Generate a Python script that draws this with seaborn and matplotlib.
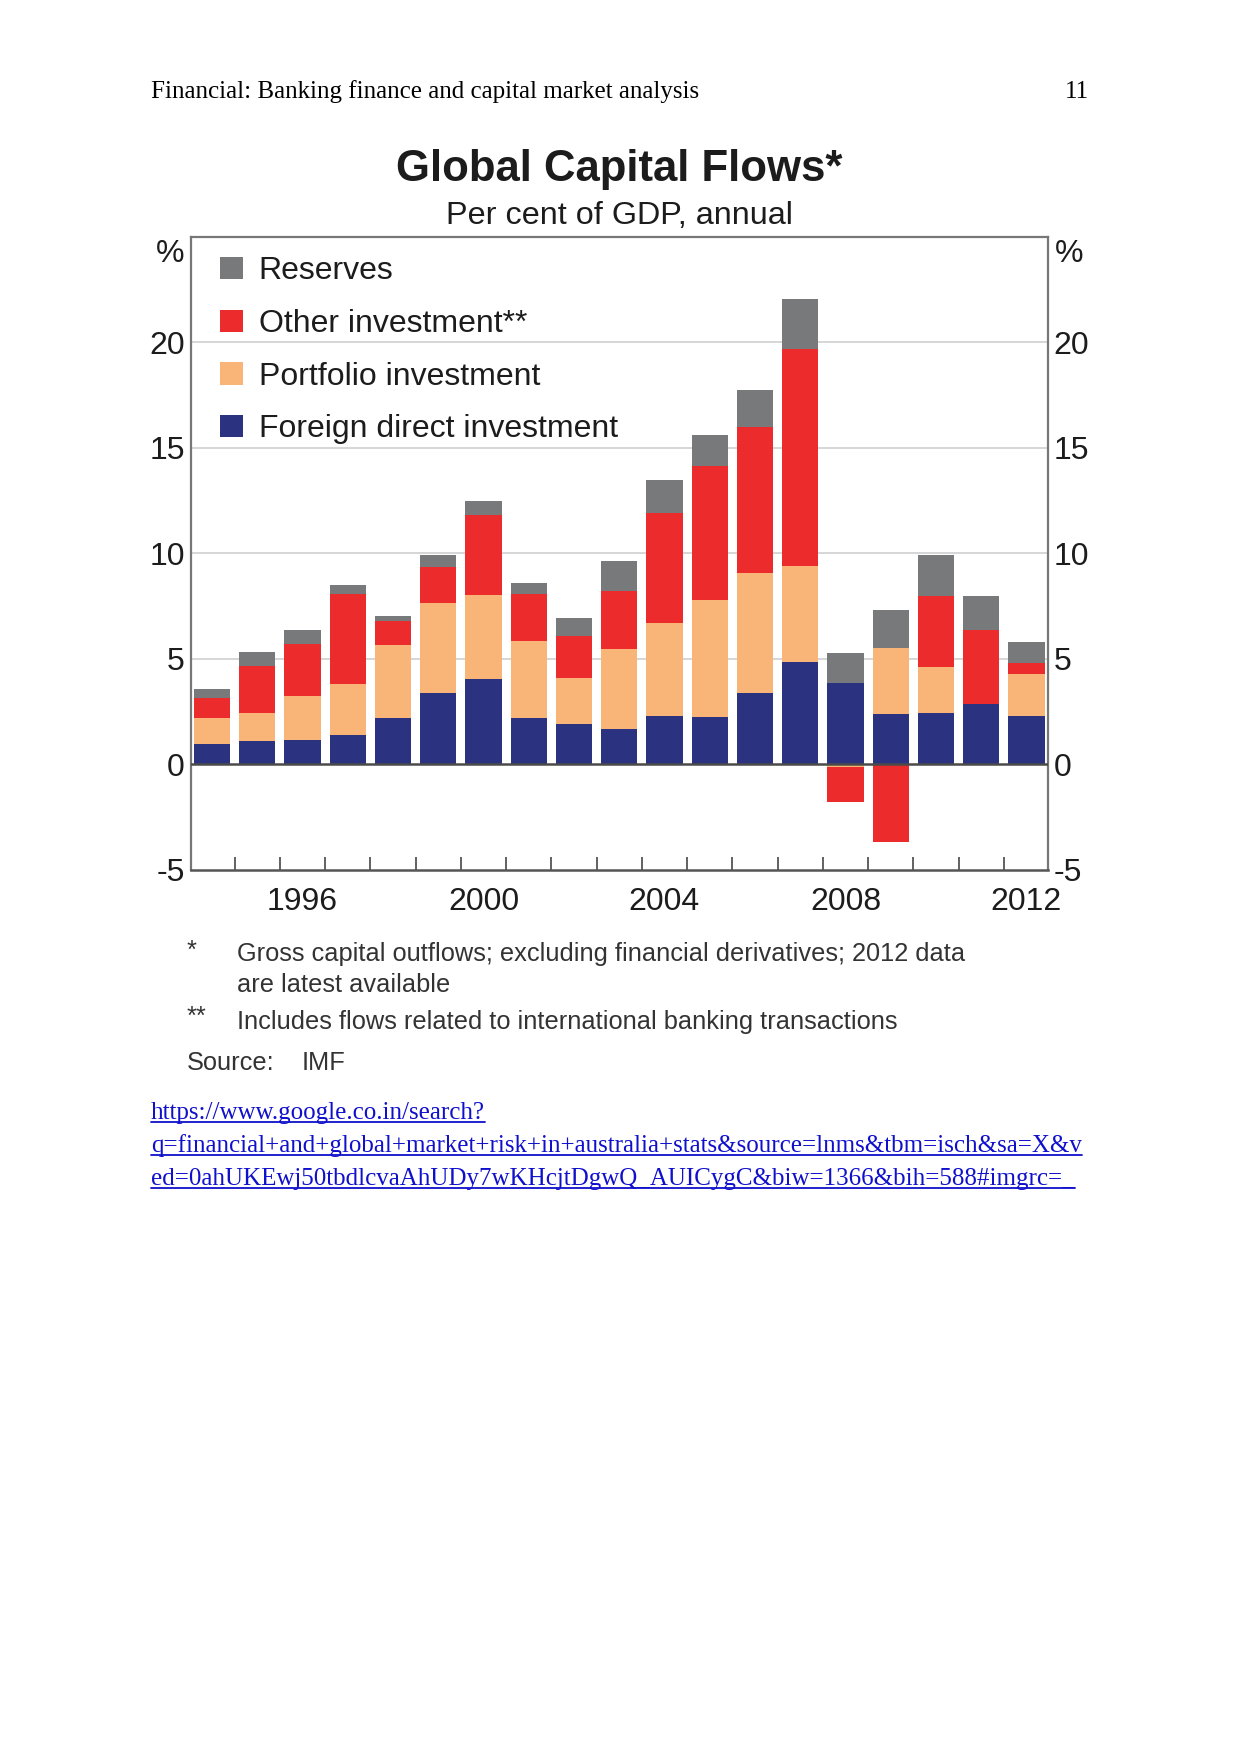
import numpy as np
import pandas as pd
import seaborn as sns
import matplotlib
matplotlib.use("Agg")
import matplotlib.pyplot as plt
from matplotlib.patches import Patch
from matplotlib.lines import Line2D
from matplotlib.transforms import blended_transform_factory

# ---------------- data ----------------
years = list(range(1994, 2013))
fdi = [0.96, 1.10, 1.17, 1.39, 2.18, 3.38, 4.03, 2.18, 1.90, 1.68,
       2.30, 2.23, 3.37, 4.86, 3.86, 2.37, 2.44, 2.88, 2.30]
portfolio = [1.22, 1.34, 2.08, 2.42, 3.47, 4.27, 3.99, 3.69, 2.19, 3.77,
             4.42, 5.55, 5.68, 4.55, -0.10, 3.16, 2.16, 0.00, 2.00]
other = [0.98, 2.21, 2.47, 4.26, 1.15, 1.69, 3.82, 2.20, 2.00, 2.77,
         5.19, 6.38, 6.92, 10.29, -1.70, -3.65, 3.39, 3.50, 0.51]
reserves = [0.43, 0.70, 0.64, 0.42, 0.22, 0.59, 0.63, 0.51, 0.85, 1.41,
            1.56, 1.44, 1.78, 2.33, 1.42, 1.81, 1.94, 1.61, 0.98]

series_names = ["Foreign direct investment", "Portfolio investment",
                "Other investment**", "Reserves"]
series_values = [fdi, portfolio, other, reserves]
series_colors = ["#2b327f", "#f8b577", "#ec2b2d", "#77797b"]

y_ticks = [-5, 0, 5, 10, 15, 20]
x_label_years = [1996, 2000, 2004, 2008, 2012]

title = "Global Capital Flows*"
subtitle = "Per cent of GDP, annual"
header_left = "Financial: Banking finance and capital market analysis"
header_right = "11"
note1_mark = "*"
note1_lines = ["Gross capital outflows; excluding financial derivatives; 2012 data",
               "are latest available"]
note2_mark = "**"
note2_text = "Includes flows related to international banking transactions"
source_label, source_text = "Source:", "IMF"
url_lines = ["https://www.google.co.in/search?",
             "q=financial+and+global+market+risk+in+australia+stats&source=lnms&tbm=isch&sa=X&v",
             "ed=0ahUKEwj50tbdlcvaAhUDy7wKHcjtDgwQ_AUICygC&biw=1366&bih=588#imgrc=_"]

# ---------------- style ----------------
sns.set_style("white")
plt.rcParams["font.family"] = ["Liberation Sans", "DejaVu Sans"]
TXT = "#1c1c1c"

W, H = 1241, 1754
fig = plt.figure(figsize=(W / 100, H / 100), dpi=100)
fig.patch.set_facecolor("white")

def fx(x):
    return x / W

def fy(y):
    return 1 - y / H

ax_l, ax_r, ax_t, ax_b = 190.7, 1047.7, 236.7, 870.0
ax = fig.add_axes([fx(ax_l), fy(ax_b), (ax_r - ax_l) / W, (ax_b - ax_t) / H])

# ---------------- stacked bars (overlay of cumulative sums) ----------------
vals = np.array(series_values, dtype=float)
pos = np.clip(vals, 0, None)
neg = np.clip(vals, None, 0)
cum_pos = np.cumsum(pos, axis=0)
cum_neg = np.cumsum(neg, axis=0)

for i in range(len(series_names) - 1, -1, -1):
    for cum, part in ((cum_pos, pos), (cum_neg, neg)):
        h = np.where(part[i] != 0, cum[i], np.nan)
        if np.all(np.isnan(h)):
            continue
        df = pd.DataFrame({"year": years, "value": h}).dropna()
        sns.barplot(data=df, x="year", y="value", native_scale=True,
                    color=series_colors[i], saturation=1, errorbar=None,
                    width=0.8, linewidth=0, ax=ax, zorder=2)

# ---------------- axes formatting ----------------
ax.set_xlim(1993.53, 2012.47)
ax.set_ylim(-5, 25)
ax.set_xlabel("")
ax.set_ylabel("")
ax.set_yticks(y_ticks)
ax.set_yticklabels([str(t) for t in y_ticks])
ax.tick_params(axis="y", which="both", left=False, right=False,
               labelleft=True, labelright=True, labelsize=23, colors=TXT, pad=0.8)
ax.set_xticks(x_label_years)
ax.set_xticklabels([str(y) for y in x_label_years])
ax.set_xticks([y + 0.5 for y in years[:-1]], minor=True)
ax.tick_params(axis="x", which="major", length=0, labelsize=23, colors=TXT, pad=12)
ax.tick_params(axis="x", which="minor", direction="in", length=9.5,
               width=1.3, color="#555555", bottom=True)

for t in [5, 10, 15, 20]:
    ax.axhline(t, color="#cfcfcf", lw=1.2, zorder=1)
ax.axhline(0, color="#4a4a4a", lw=1.8, zorder=3)

for side in ["top", "left", "right"]:
    ax.spines[side].set_color("#777777")
    ax.spines[side].set_linewidth(1.6)
    ax.spines[side].set_visible(True)
ax.spines["bottom"].set_color("#555555")
ax.spines["bottom"].set_linewidth(1.8)
ax.spines["bottom"].set_visible(True)

tr = blended_transform_factory(ax.transAxes, ax.transData)
ax.text(-0.0075, 24.2, "%", transform=tr, ha="right", va="center", fontsize=23, color=TXT)
ax.text(1.0085, 24.2, "%", transform=tr, ha="left", va="center", fontsize=23, color=TXT)

# legend
handles = [Patch(facecolor=series_colors[i], edgecolor="none") for i in range(3, -1, -1)]
labels = [series_names[i] for i in range(3, -1, -1)]
ax.legend(handles, labels, loc="upper left", bbox_to_anchor=(0.0345, 0.969),
          frameon=False, fontsize=23, handlelength=0.7, handleheight=0.7,
          handletextpad=0.5, labelspacing=0.71, borderpad=0, borderaxespad=0,
          labelcolor=TXT)

# ---------------- titles ----------------
fig.text(fx(619), fy(169), title, ha="center", va="center", fontsize=31.5,
         fontweight="bold", color=TXT)
fig.text(fx(619), fy(216), subtitle, ha="center", va="center", fontsize=23.3, color=TXT)

# ---------------- page header ----------------
serif = ["Liberation Serif", "DejaVu Serif"]
fig.text(fx(151), fy(91.5), header_left, ha="left", va="center", fontsize=18,
         family=serif, color="black")
fig.text(fx(1089), fy(91.5), header_right, ha="right", va="center", fontsize=18,
         family=serif, color="black")

# ---------------- footnotes ----------------
NOTE = "#333333"
FS = 18.3
fig.text(fx(187), fy(951), note1_mark, ha="left", va="center", fontsize=FS, color=NOTE)
fig.text(fx(237), fy(954), note1_lines[0], ha="left", va="center", fontsize=FS, color=NOTE)
fig.text(fx(237), fy(984.5), note1_lines[1], ha="left", va="center", fontsize=FS, color=NOTE)
fig.text(fx(187), fy(1017), note2_mark, ha="left", va="center", fontsize=FS, color=NOTE)
fig.text(fx(237), fy(1021.5), note2_text, ha="left", va="center", fontsize=FS, color=NOTE)
fig.text(fx(187), fy(1062.5), source_label, ha="left", va="center", fontsize=FS, color=NOTE)
fig.text(fx(302), fy(1062.5), source_text, ha="left", va="center", fontsize=FS, color=NOTE)

# ---------------- URL (underlined) ----------------
fig.canvas.draw()
renderer = fig.canvas.get_renderer()
URLC = "#1010cc"
for y, line in zip([1112.5, 1146, 1178.5], url_lines):
    t = fig.text(fx(151), fy(y), line, ha="left", va="center", fontsize=18,
                 family=serif, color=URLC)
    bb = t.get_window_extent(renderer=renderer)
    yy = bb.y0 + 2
    fig.add_artist(Line2D([bb.x0 / W, bb.x1 / W], [yy / H, yy / H],
                          transform=fig.transFigure, color=URLC, lw=1.3))

fig.savefig("out.png", dpi=100, facecolor="white")
